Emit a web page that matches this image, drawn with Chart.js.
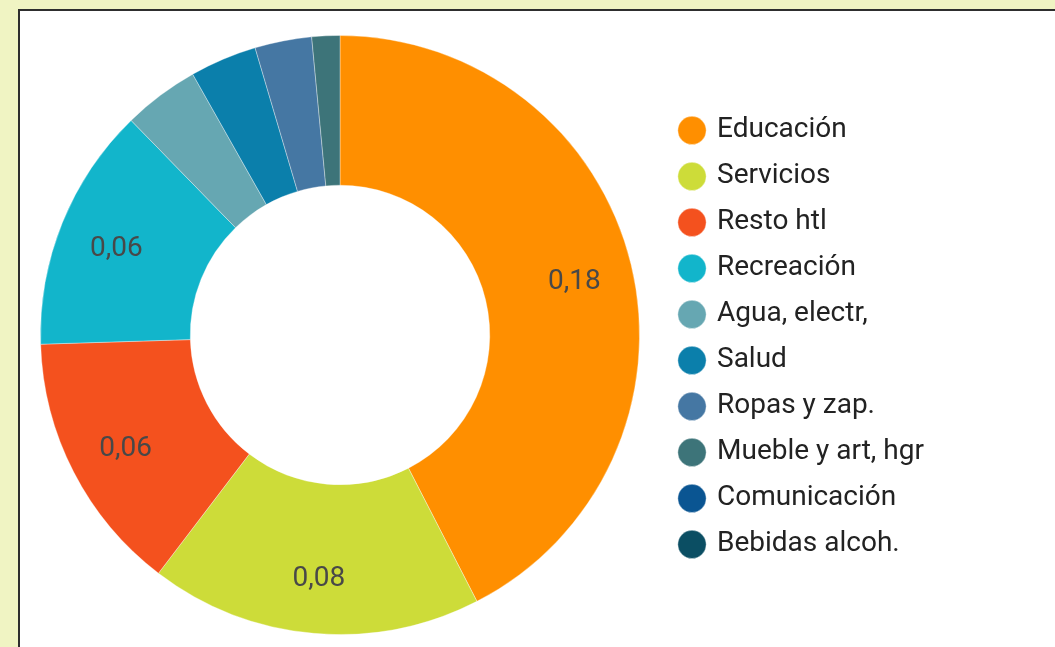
<!DOCTYPE html>
<html>
<head>
<meta charset="utf-8">
<script src="https://cdn.jsdelivr.net/npm/chart.js@4"></script>
<style>
    html, body { margin: 0; padding: 0; width: 1055px; height: 647px; overflow: hidden; background: #f0f4c3; }
    #panel { position: absolute; left: 18px; top: 9px; width: 1100px; height: 700px; background: #fff;
             border-left: 2px solid #2e2e2e; border-top: 2px solid #2e2e2e; }
    #chart { position: absolute; left: 17px; top: 11px; }
</style>
</head>
<body>
<div id="panel"></div>
<canvas id="chart" width="1038" height="636"></canvas>
<script>
// Data
const categories = ['Educación', 'Servicios', 'Resto htl', 'Recreación', 'Agua, electr,', 'Salud',
    'Ropas y zap.', 'Mueble y art, hgr', 'Comunicación', 'Bebidas alcoh.'];
const values = [0.18, 0.076, 0.060, 0.056, 0.0174, 0.0153, 0.013, 0.0064, 0, 0];
const colors = ['#ff8f00', '#cddc39', '#f4511e', '#12b5cb', '#66a7b2', '#0b7fab',
    '#4577a3', '#3d7479', '#0a5592', '#0b4e63'];

// Value labels inside the big slices
const sliceLabels = {
    id: 'sliceLabels',
    afterDatasetsDraw(chart) {
        const ctx = chart.ctx;
        const meta = chart.getDatasetMeta(0);
        const total = values.reduce((a, b) => a + b, 0);
        ctx.save();
        ctx.font = '28px Roboto';
        ctx.fillStyle = '#484848';
        ctx.textAlign = 'center';
        ctx.textBaseline = 'middle';
        meta.data.forEach((arc, i) => {
            if (values[i] / total < 0.1) return;
            const p = arc.getProps(['x', 'y', 'startAngle', 'endAngle', 'innerRadius', 'outerRadius'], true);
            const mid = (p.startAngle + p.endAngle) / 2;
            const r = p.innerRadius + (p.outerRadius - p.innerRadius) * 0.61;
            const text = values[i].toFixed(2).replace('.', ',');
            ctx.fillText(text, p.x + Math.cos(mid) * r, p.y + Math.sin(mid) * r + 4);
        });
        ctx.restore();
    }
};

const chart = new Chart(document.getElementById('chart'), {
    type: 'doughnut',
    data: {
        labels: categories,
        datasets: [{
            data: values,
            backgroundColor: colors,
            borderColor: 'rgba(255,255,255,0.35)',
            borderWidth: 1
        }]
    },
    options: {
        responsive: false,
        animation: false,
        events: [],
        cutout: '50%',
        layout: { padding: { top: 24, bottom: 12, left: 0, right: 0 } },
        plugins: {
            tooltip: { enabled: false },
            legend: {
                position: 'right',
                title: { display: true, text: '', padding: 0, font: { size: 4 } },
                labels: {
                    usePointStyle: true,
                    pointStyle: 'circle',
                    boxWidth: 22,
                    boxHeight: 20,
                    padding: 18,
                    color: '#222',
                    font: { family: 'Roboto', size: 28 }
                }
            }
        }
    },
    plugins: [sliceLabels]
});

// put the legend's left edge where the reference has it (donut area 646px wide)
chart.options.layout.padding.right = 1038 - 646 - chart.legend.width;
chart.update();
</script>
</body>
</html>
